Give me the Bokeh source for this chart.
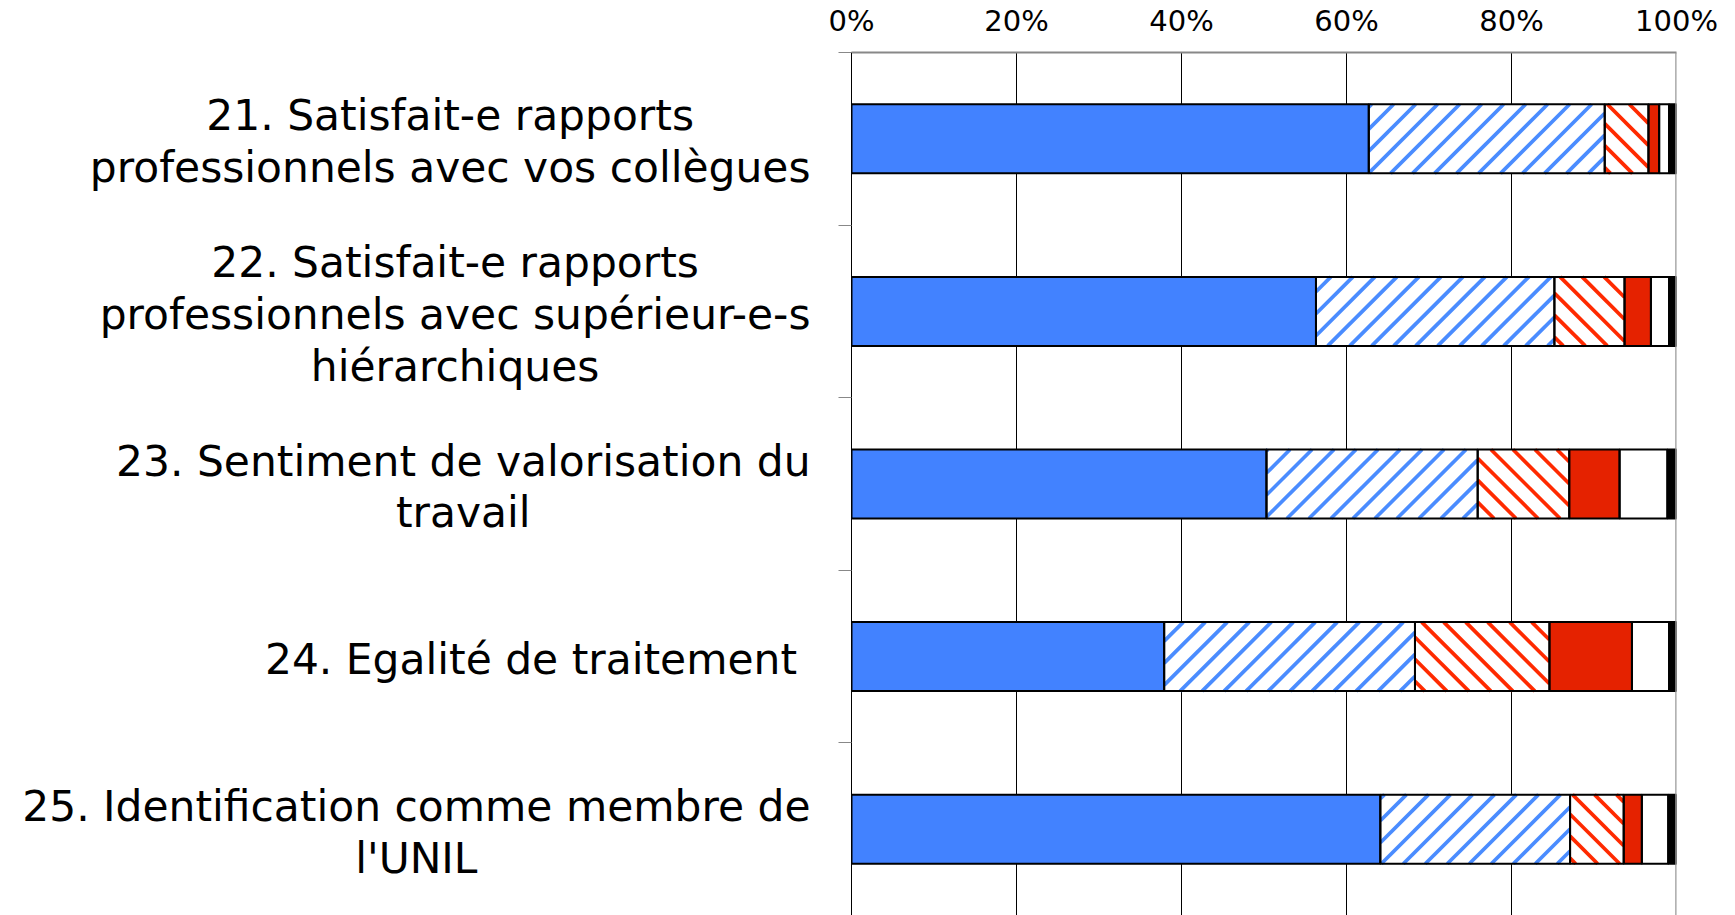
import numpy as np
from bokeh.plotting import figure
from bokeh.layouts import row
from bokeh.models import Range1d, FixedTicker, Span
from bokeh.core.properties import value
from bokeh.embed import file_html
from bokeh.resources import INLINE

# ---- data ----
categories = [
    "21. Satisfait-e rapports\nprofessionnels avec vos collègues",
    "22. Satisfait-e rapports\nprofessionnels avec supérieur-e-s\nhiérarchiques",
    "23. Sentiment de valorisation du\ntravail",
    "24. Egalité de traitement ",
    "25. Identification comme membre de\nl'UNIL",
]
tres_satisfait = [62.7, 56.3, 50.3, 37.9, 64.1]
plutot_satisfait = [28.6, 28.9, 25.6, 30.4, 23.0]
plutot_insatisfait = [5.3, 8.5, 11.1, 16.3, 6.5]
insatisfait = [1.3, 3.2, 6.1, 10.0, 2.2]
sans_avis = [1.2, 2.2, 5.8, 4.5, 3.2]
non_reponse = [0.9, 0.9, 1.1, 0.9, 1.0]
x_ticks = [0, 20, 40, 60, 80, 100]
x_tick_labels = ["0%", "20%", "40%", "60%", "80%", "100%"]

series = [tres_satisfait, plutot_satisfait, plutot_insatisfait, insatisfait, sans_avis, non_reponse]
styles = [
    dict(fill_color="#4282FF", stripes=None, stripe_color=None),
    dict(fill_color="white", stripes="/", stripe_color="#4A8CFF"),
    dict(fill_color="white", stripes="\\", stripe_color="#FF2A00"),
    dict(fill_color="#E52200", stripes=None, stripe_color=None),
    dict(fill_color="white", stripes=None, stripe_color=None),
    dict(fill_color="black", stripes=None, stripe_color=None),
]

FONT = "DejaVu Sans"
n = len(categories)
ypos = np.arange(n) + 0.5
bounds = [float(v) for v in np.arange(n + 1)]
BAR_H = 0.4

# layout constants (pixels)
W, H = 1735, 915
LABEL_W = 821
FIG_W = W - LABEL_W
BORDER_L, BORDER_R, BORDER_T = 30, 59, 51
FRAME_W = FIG_W - BORDER_L - BORDER_R
FRAME_H = H - BORDER_T
STRIPE_STEP = 22.0   # px between stripes, measured horizontally
STRIPE_W = 3.7

y_range = Range1d(n, 0)

p = figure(width=FIG_W, height=H,
           x_range=Range1d(x_ticks[0], x_ticks[-1]), y_range=y_range,
           x_axis_location="above",
           output_backend="svg", toolbar_location=None,
           min_border_left=BORDER_L, min_border_right=BORDER_R,
           min_border_top=BORDER_T, min_border_bottom=0)
p.outline_line_color = None

kx = FRAME_W / (x_ticks[-1] - x_ticks[0])   # px per x unit
ky = FRAME_H / n                             # px per category


def stripe_segments(lefts, rights, ys, kind):
    x0s, y0s, x1s, y1s = [], [], [], []
    for l, r, yc in zip(lefts, rights, ys):
        u0, u1 = l * kx, r * kx
        v0, v1 = -(yc + BAR_H / 2) * ky, -(yc - BAR_H / 2) * ky
        if kind == "/":
            cmin, cmax = u0 - v1, u1 - v0
        else:
            cmin, cmax = u0 + v0, u1 + v1
        for k in range(int(np.floor(cmin / STRIPE_STEP)), int(np.ceil(cmax / STRIPE_STEP)) + 1):
            c = k * STRIPE_STEP
            if kind == "/":
                lo, hi = max(v0, u0 - c), min(v1, u1 - c)
                if hi - lo <= 0:
                    continue
                pts = [(lo + c, lo), (hi + c, hi)]
            else:
                lo, hi = max(v0, c - u1), min(v1, c - u0)
                if hi - lo <= 0:
                    continue
                pts = [(c - lo, lo), (c - hi, hi)]
            x0s.append(pts[0][0] / kx); y0s.append(-pts[0][1] / ky)
            x1s.append(pts[1][0] / kx); y1s.append(-pts[1][1] / ky)
    return x0s, y0s, x1s, y1s


left = np.zeros(n)
segments = []
for vals, st in zip(series, styles):
    right = left + np.array(vals)
    p.hbar(y=ypos, left=left.copy(), right=right.copy(), height=BAR_H,
           fill_color=st["fill_color"], line_color=None)
    segments.append((left.copy(), right.copy()))
    if st["stripes"]:
        x0s, y0s, x1s, y1s = stripe_segments(left, right, ypos, st["stripes"])
        p.segment(x0=x0s, y0=y0s, x1=x1s, y1=y1s, line_color=st["stripe_color"],
                  line_width=STRIPE_W, line_cap="butt")
    left = right

for l, r in segments:
    p.hbar(y=ypos, left=l, right=r, height=BAR_H, fill_color=None,
           line_color="black", line_width=2)

# x axis (top)
xa = p.xaxis[0]
xa.ticker = FixedTicker(ticks=x_ticks)
xa.major_label_overrides = {t: lab for t, lab in zip(x_ticks, x_tick_labels)}
xa.major_tick_out = 0
xa.major_tick_in = 0
xa.minor_tick_out = 0
xa.minor_tick_in = 0
xa.axis_line_color = "#888888"
xa.axis_line_width = 2
xa.major_label_text_font = FONT
xa.major_label_text_font_size = "29px"
xa.major_label_text_color = "black"
xa.major_label_standoff = 15

# y axis (left): ticks at category boundaries only
ya = p.yaxis[0]
ya.ticker = FixedTicker(ticks=list(ypos), minor_ticks=bounds)
ya.major_label_overrides = {float(y): "" for y in ypos}
ya.major_label_standoff = 0
ya.major_tick_out = 0
ya.major_tick_in = 0
ya.minor_tick_out = 13
ya.minor_tick_in = 0
ya.minor_tick_line_color = "#888888"
ya.minor_tick_line_width = 1
ya.axis_line_color = "black"
ya.axis_line_width = 1

p.ygrid.grid_line_color = None
p.xgrid.ticker = FixedTicker(ticks=x_ticks[1:-1])
p.xgrid.grid_line_color = "black"
p.xgrid.grid_line_width = 1
p.add_layout(Span(location=x_ticks[-1], dimension="height", line_color="#999999", line_width=2.5))

# category labels: separate panel on the left, centred multi-line blocks
lab = figure(width=LABEL_W, height=H, x_range=Range1d(0, 1), y_range=y_range,
             x_axis_location=None, y_axis_location=None,
             output_backend="svg", toolbar_location=None,
             min_border_left=0, min_border_right=0,
             min_border_top=BORDER_T, min_border_bottom=0)
lab.outline_line_color = None
lab.grid.grid_line_color = None
lab.text(x=[1.0] * n, y=ypos, text=categories, x_offset=-(41 - BORDER_L), y_offset=3,
         anchor="center_right", text_align="center", text_baseline="middle",
         text_font=value(FONT), text_font_size="42.4px", text_color="black",
         text_line_height=1.06)

layout = row(lab, p, spacing=0)
open("out.html", "w").write(file_html(layout, INLINE))
